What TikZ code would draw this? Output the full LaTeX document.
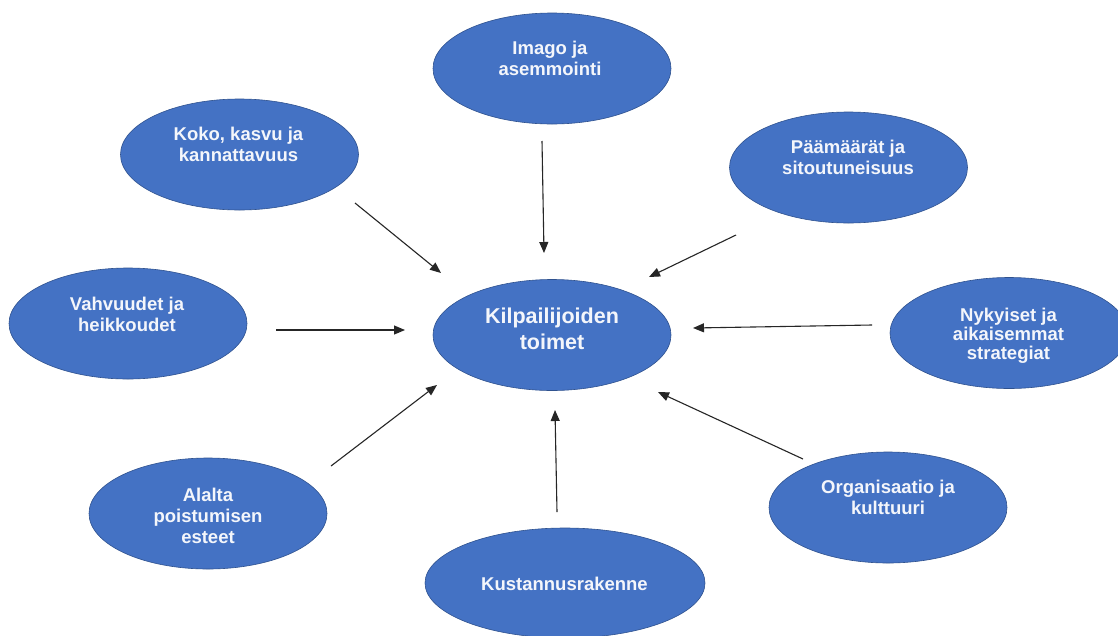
\documentclass[tikz,border=0pt]{standalone}
\usepackage{fontspec}
\setmainfont{Liberation Sans}
\usetikzlibrary{shapes.geometric,arrows.meta}
\definecolor{ofblue}{HTML}{4472C4}
\definecolor{ofedge}{HTML}{2F528F}
\definecolor{txtw}{HTML}{F4F6FB}
\tikzset{
  bub/.style={ellipse, fill=ofblue, draw=ofedge, line width=0.6pt, inner sep=0pt,
    minimum width=238pt, minimum height=111pt},
  lbl/.style={text=txtw, font=\fontsize{18.5}{21}\selectfont\bfseries, align=center,
    anchor=north, inner sep=0pt},
  biglbl/.style={lbl, font=\fontsize{21.5}{26}\selectfont\bfseries},
  arr/.style={-{Triangle[length=11pt,width=9pt]}, line width=1.1pt, draw=black!85}
}
\begin{document}
\begin{tikzpicture}[x=1pt,y=-1pt]
\useasboundingbox (0,0) rectangle (1118,635);
\fill[white] (0,0) rectangle (1118,635);

% ellipses
\node[bub] (center) at (552,335) {};
\node[bub] (imago) at (552,68.5) {};
\node[bub] (koko) at (239.5,154.5) {};
\node[bub] (paam) at (848.5,167.5) {};
\node[bub] (vahv) at (128,323.5) {};
\node[bub] (nyky) at (1009,333) {};
\node[bub] (alalta) at (208,513.5) {};
\node[bub, minimum width=280pt, minimum height=110pt] (kust) at (565,583) {};
\node[bub] (org) at (888,507.5) {};

% texts
\node[biglbl] (tcenter) at (552,307.5) {Kilpailijoiden\\toimet};
\node[lbl] (timago) at (550,40.7) {Imago ja\\asemmointi};
\node[lbl] (tkoko) at (238.5,126.7) {Koko, kasvu ja\\kannattavuus};
\node[lbl] (tpaam) at (848,139.7) {Päämäärät ja\\sitoutuneisuus};
\node[lbl] (tvahv) at (127,296.7) {Vahvuudet ja\\heikkoudet};
\node[lbl, font=\fontsize{18.5}{19}\selectfont\bfseries] (tnyky) at (1008.5,307.7) {Nykyiset ja\\aikaisemmat\\strategiat};
\node[lbl] (talalta) at (208,487.7) {Alalta\\poistumisen\\esteet};
\node[lbl] (tkust) at (564.5,576.7) {Kustannusrakenne};
\node[lbl] (torg) at (888,479.7) {Organisaatio ja\\kulttuuri};

% arrow end points
\coordinate (a1s) at (542,141);   \coordinate (a1e) at (544,253);
\coordinate (a2s) at (355,203);   \coordinate (a2e) at (441,273);
\coordinate (a3s) at (736,235);   \coordinate (a3e) at (649,277);
\coordinate (a4s) at (276,330);   \coordinate (a4e) at (405,330);
\coordinate (a5s) at (872,325);   \coordinate (a5e) at (693,328);
\coordinate (a6s) at (331,466);   \coordinate (a6e) at (437,385);
\coordinate (a7s) at (557,512);   \coordinate (a7e) at (555,410);
\coordinate (a8s) at (803,459);   \coordinate (a8e) at (658,392);

\draw[arr] (a1s) -- (a1e);
\draw[arr] (a2s) -- (a2e);
\draw[arr] (a3s) -- (a3e);
\draw[arr] (a4s) -- (a4e);
\draw[arr] (a5s) -- (a5e);
\draw[arr] (a6s) -- (a6e);
\draw[arr] (a7s) -- (a7e);
\draw[arr] (a8s) -- (a8e);
\end{tikzpicture}
\end{document}
